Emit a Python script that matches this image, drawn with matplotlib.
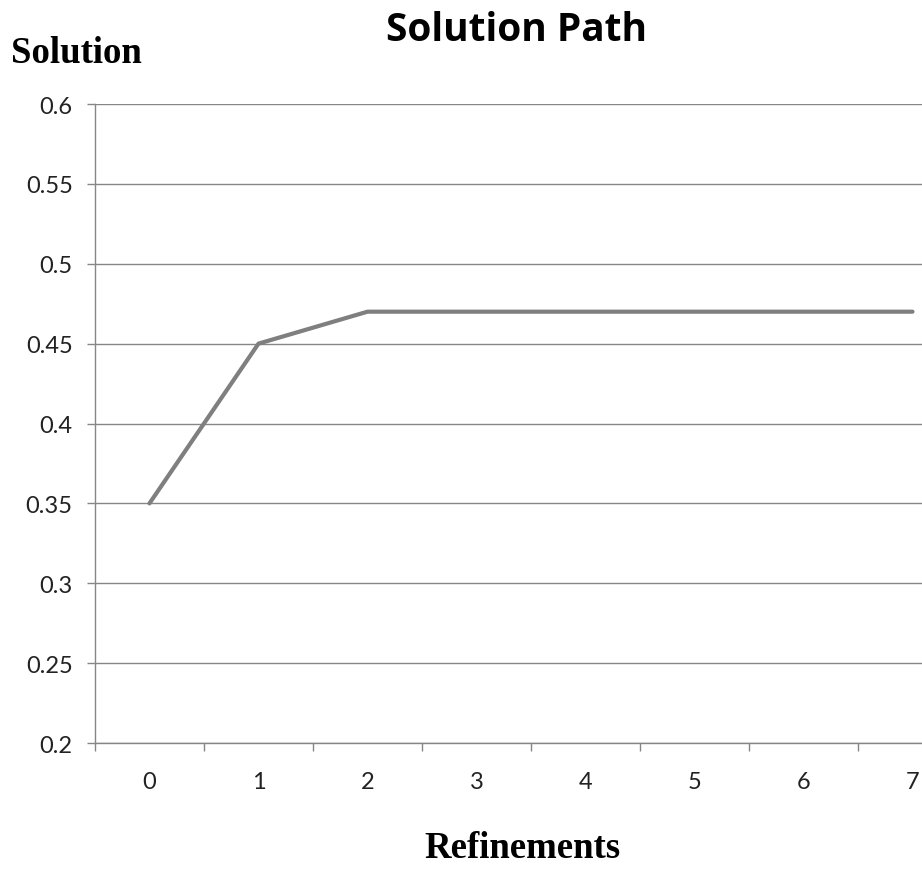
import numpy as np
import matplotlib.pyplot as plt

refinements = [0, 1, 2, 3, 4, 5, 6, 7]
solution = [0.35, 0.45, 0.47, 0.47, 0.47, 0.47, 0.47, 0.47]
yticks = [0.2, 0.25, 0.3, 0.35, 0.4, 0.45, 0.5, 0.55, 0.6]
ytick_labels = ["0.2", "0.25", "0.3", "0.35", "0.4", "0.45", "0.5", "0.55", "0.6"]

grey = "#868686"
tick_font = "Lato"
serif = "Liberation Serif"

fig = plt.figure(figsize=(9.22, 8.7), dpi=100)
# plot area runs past the right edge, like a cropped spreadsheet chart
ax = fig.add_axes([0.103, 0.1448, 0.9458, 0.7345])

ax.plot(refinements, solution, color="#7f7f7f", lw=3, solid_capstyle="round", zorder=3)

ax.set_xlim(-0.5, 7.5)
ax.set_ylim(0.2, 0.6)
ax.set_yticks(yticks)
ax.set_yticklabels(ytick_labels, fontname=tick_font, fontsize=17, color="#222222")
ax.yaxis.grid(True, color=grey, lw=1)
ax.set_axisbelow(True)

# category ticks sit between the labels
ax.set_xticks(np.arange(-0.5, 8, 1))
ax.set_xticklabels([])
ax.set_xticks(refinements, minor=True)
ax.set_xticklabels([str(r) for r in refinements], minor=True,
                   fontname=tick_font, fontsize=17, color="#222222")
ax.tick_params(axis="x", which="major", length=6, width=1, color=grey, direction="out")
ax.tick_params(axis="x", which="minor", length=0, pad=20)
ax.tick_params(axis="y", length=6, width=1, color=grey, pad=10)

for side in ["top", "right"]:
    ax.spines[side].set_visible(False)
for side in ["left", "bottom"]:
    ax.spines[side].set_color(grey)
    ax.spines[side].set_linewidth(1)

fig.text(0.56, 0.965, "Solution Path", ha="center", va="center",
         fontname="Open Sans", fontweight="bold", fontsize=28)
fig.text(0.012, 0.938, "Solution", ha="left", va="center",
         fontname=serif, fontweight="bold", fontsize=26.5)
fig.text(0.567, 0.025, "Refinements", ha="center", va="center",
         fontname=serif, fontweight="bold", fontsize=26.5)

fig.savefig("out.png", dpi=100)
